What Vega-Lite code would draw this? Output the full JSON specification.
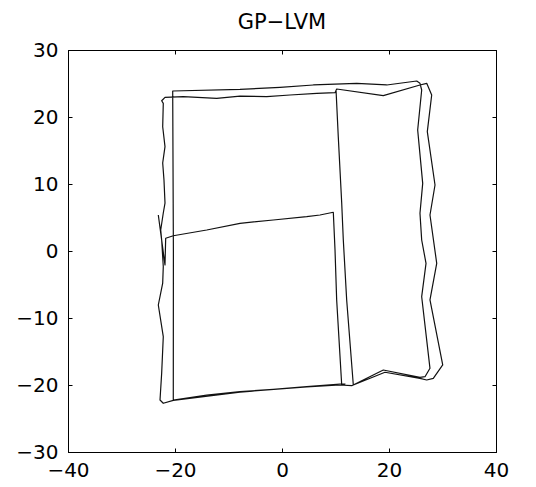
{
  "$schema": "https://vega.github.io/schema/vega-lite/v6.json",
  "width": 428,
  "height": 402,
  "autosize": {"type": "none"},
  "padding": {"left": 68, "top": 50, "right": 40, "bottom": 35},
  "background": "white",
  "title": {
    "text": "GP−LVM",
    "font": "DejaVu Sans",
    "fontSize": 21,
    "fontWeight": "normal",
    "color": "black",
    "anchor": "middle",
    "baseline": "alphabetic",
    "offset": -10
  },
  "config": {
    "view": {"stroke": "black", "strokeWidth": 1},
    "axis": {
      "domainColor": "black",
      "domainWidth": 1,
      "tickColor": "black",
      "tickWidth": 1,
      "tickSize": -4,
      "grid": false,
      "labelFlush": false,
      "labelFont": "DejaVu Sans",
      "labelFontSize": 20,
      "labelColor": "black",
      "title": null
    }
  },
  "data": {
    "values": [
      {"t": 1, "x": -23.12, "y": 5.37},
      {"t": 2, "x": -21.87, "y": -2.09},
      {"t": 3, "x": -21.74, "y": 1.90},
      {"t": 4, "x": -20.32, "y": 2.28},
      {"t": 5, "x": -14.07, "y": 3.13},
      {"t": 6, "x": -7.85, "y": 4.13},
      {"t": 7, "x": -1.63, "y": 4.63},
      {"t": 8, "x": 4.62, "y": 5.12},
      {"t": 9, "x": 7.10, "y": 5.37},
      {"t": 10, "x": 9.59, "y": 5.78},
      {"t": 11, "x": 9.91, "y": 0.15},
      {"t": 12, "x": 10.22, "y": -7.31},
      {"t": 13, "x": 11.16, "y": -20.00},
      {"t": 14, "x": 11.78, "y": -19.85},
      {"t": 15, "x": 10.84, "y": -19.85},
      {"t": 16, "x": 4.62, "y": -20.25},
      {"t": 17, "x": -1.63, "y": -20.64},
      {"t": 18, "x": -7.85, "y": -21.00},
      {"t": 19, "x": -14.07, "y": -21.49},
      {"t": 20, "x": -20.32, "y": -22.24},
      {"t": 21, "x": -20.30, "y": 0.00},
      {"t": 22, "x": -20.43, "y": 23.88},
      {"t": 23, "x": -7.85, "y": 24.13},
      {"t": 24, "x": -0.37, "y": 24.43},
      {"t": 25, "x": 5.85, "y": 24.78},
      {"t": 26, "x": 13.96, "y": 25.03},
      {"t": 27, "x": 19.57, "y": 24.78},
      {"t": 28, "x": 25.18, "y": 25.37},
      {"t": 29, "x": 25.79, "y": 25.03},
      {"t": 30, "x": 26.11, "y": 24.03},
      {"t": 31, "x": 25.36, "y": 18.06},
      {"t": 32, "x": 26.30, "y": 10.10},
      {"t": 33, "x": 25.79, "y": 5.63},
      {"t": 34, "x": 26.11, "y": 1.64},
      {"t": 35, "x": 26.92, "y": -1.84},
      {"t": 36, "x": 26.11, "y": -6.82},
      {"t": 37, "x": 27.66, "y": -17.51},
      {"t": 38, "x": 26.73, "y": -18.76},
      {"t": 39, "x": 25.79, "y": -18.85},
      {"t": 40, "x": 18.93, "y": -17.76},
      {"t": 41, "x": 13.03, "y": -20.10},
      {"t": 42, "x": 10.84, "y": -20.00},
      {"t": 43, "x": 4.62, "y": -20.30},
      {"t": 44, "x": -7.85, "y": -21.05},
      {"t": 45, "x": -20.32, "y": -22.30},
      {"t": 46, "x": -22.19, "y": -22.73},
      {"t": 47, "x": -22.80, "y": -22.24},
      {"t": 48, "x": -22.49, "y": -18.21},
      {"t": 49, "x": -22.19, "y": -12.79},
      {"t": 50, "x": -23.12, "y": -8.06},
      {"t": 51, "x": -22.30, "y": -4.78},
      {"t": 52, "x": -22.19, "y": -2.34},
      {"t": 53, "x": -22.49, "y": 1.64},
      {"t": 54, "x": -22.67, "y": 3.13},
      {"t": 55, "x": -22.19, "y": 5.67},
      {"t": 56, "x": -21.87, "y": 7.16},
      {"t": 57, "x": -22.06, "y": 10.60},
      {"t": 58, "x": -22.30, "y": 13.13},
      {"t": 59, "x": -21.87, "y": 15.57},
      {"t": 60, "x": -22.30, "y": 18.55},
      {"t": 61, "x": -22.19, "y": 22.04},
      {"t": 62, "x": -22.49, "y": 22.43},
      {"t": 63, "x": -21.87, "y": 22.94},
      {"t": 64, "x": -18.45, "y": 23.03},
      {"t": 65, "x": -12.21, "y": 22.79},
      {"t": 66, "x": -7.85, "y": 23.13},
      {"t": 67, "x": -2.86, "y": 23.03},
      {"t": 68, "x": 1.50, "y": 23.28},
      {"t": 69, "x": 6.49, "y": 23.54},
      {"t": 70, "x": 9.91, "y": 23.63},
      {"t": 71, "x": 10.22, "y": 24.18},
      {"t": 72, "x": 18.93, "y": 23.18},
      {"t": 73, "x": 25.79, "y": 24.78},
      {"t": 74, "x": 27.05, "y": 25.03},
      {"t": 75, "x": 27.98, "y": 23.28},
      {"t": 76, "x": 27.16, "y": 17.81},
      {"t": 77, "x": 28.60, "y": 9.85},
      {"t": 78, "x": 27.66, "y": 5.37},
      {"t": 79, "x": 28.92, "y": -1.84},
      {"t": 80, "x": 27.66, "y": -7.31},
      {"t": 81, "x": 30.04, "y": -17.01},
      {"t": 82, "x": 28.28, "y": -19.00},
      {"t": 83, "x": 27.05, "y": -19.25},
      {"t": 84, "x": 25.79, "y": -19.00},
      {"t": 85, "x": 19.25, "y": -18.10},
      {"t": 86, "x": 13.33, "y": -20.00},
      {"t": 87, "x": 12.09, "y": -7.31},
      {"t": 88, "x": 11.46, "y": 1.64},
      {"t": 89, "x": 11.16, "y": 7.16},
      {"t": 90, "x": 10.52, "y": 17.06},
      {"t": 91, "x": 10.10, "y": 24.03}
    ]
  },
  "layer": [
    {
      "mark": {"type": "line", "color": "#111111", "strokeWidth": 1.2, "strokeJoin": "round"},
      "encoding": {
        "x": {
          "field": "x", "type": "quantitative",
          "scale": {"domain": [-40, 40], "nice": false, "zero": false},
          "axis": {"orient": "bottom", "values": [-40, -20, 0, 20, 40], "labelPadding": 12}
        },
        "y": {
          "field": "y", "type": "quantitative",
          "scale": {"domain": [-30, 30], "nice": false, "zero": false},
          "axis": {"orient": "left", "values": [-30, -20, -10, 0, 10, 20, 30], "labelPadding": 14}
        },
        "order": {"field": "t", "type": "quantitative"}
      }
    },
    {
      "mark": {"type": "line", "opacity": 0},
      "encoding": {
        "x": {
          "field": "x", "type": "quantitative",
          "scale": {"domain": [-40, 40], "nice": false, "zero": false},
          "axis": {"orient": "top", "values": [-40, -20, 0, 20, 40], "labels": false}
        },
        "y": {
          "field": "y", "type": "quantitative",
          "scale": {"domain": [-30, 30], "nice": false, "zero": false},
          "axis": {"orient": "right", "values": [-30, -20, -10, 0, 10, 20, 30], "labels": false}
        },
        "order": {"field": "t", "type": "quantitative"}
      }
    }
  ],
  "resolve": {"axis": {"x": "independent", "y": "independent"}}
}
